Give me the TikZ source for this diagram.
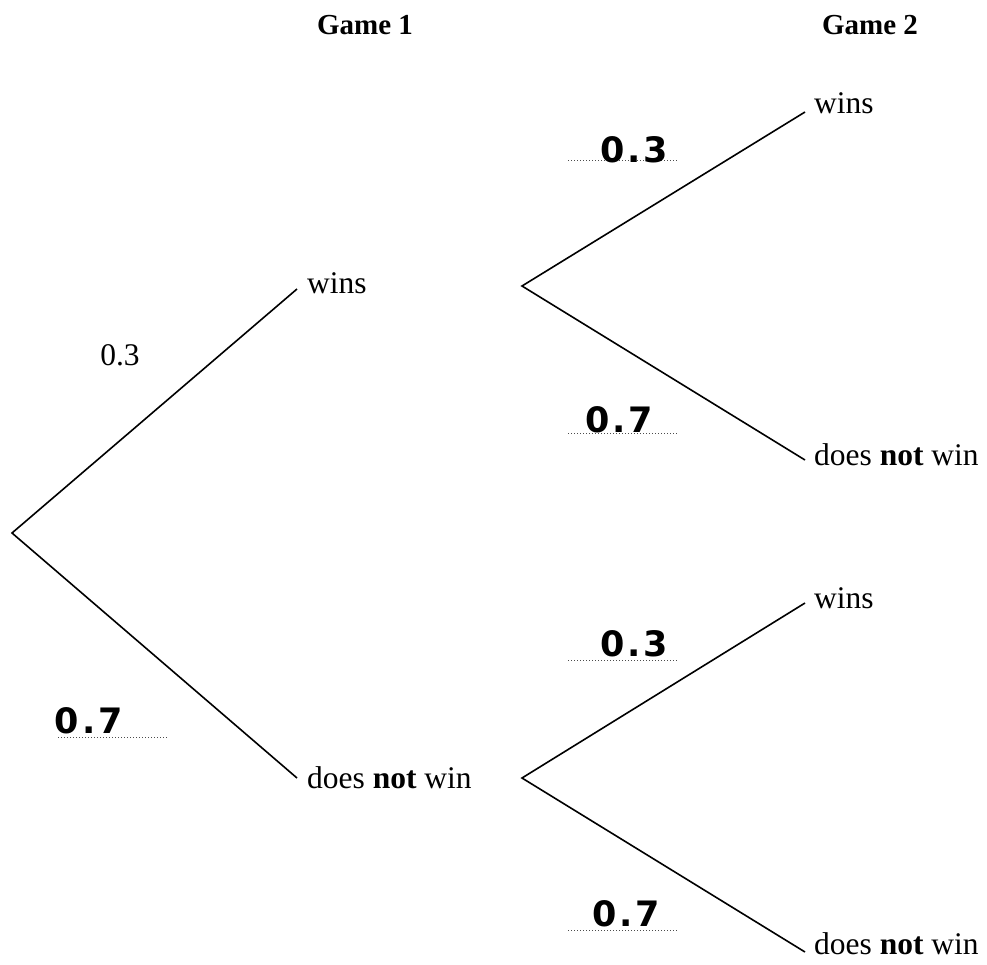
\documentclass[tikz,border=0pt]{standalone}
\usepackage{fontspec}
\setmainfont{Liberation Serif}
\newfontfamily\handfont{DejaVu Sans}
\newcommand{\hnum}[2]{#1\kern3pt.\kern3pt#2}
\begin{document}
\begin{tikzpicture}[x=1pt,y=-1pt,
  branch/.style={line width=1.6pt},
  lbl/.style={anchor=west,font=\fontsize{31.5}{34}\selectfont,inner sep=0pt},
  head/.style={font=\fontsize{29}{32}\selectfont\bfseries,inner sep=0pt},
  hand/.style={font=\handfont\fontsize{35}{37}\selectfont\bfseries,inner sep=0pt,anchor=base},
  dotline/.style={line width=1pt,dash pattern=on 1pt off 2pt,black!70}]
\useasboundingbox (0,0) rectangle (987,964);
\node[head] (g1) at (365,25) {Game 1};
\node[head] (g2) at (870,25) {Game 2};
% tree points
\coordinate (root) at (12,533);
\coordinate (a1) at (297,289);
\coordinate (a2) at (297,778);
\coordinate (b1) at (522,286);
\coordinate (b2) at (522,778);
\coordinate (c1) at (805,112);
\coordinate (c2) at (805,460);
\coordinate (c3) at (805,603);
\coordinate (c4) at (805,952);
\draw[branch] (a1) -- (root) -- (a2);
\draw[branch] (c1) -- (b1) -- (c2);
\draw[branch] (c3) -- (b2) -- (c4);
% labels
\node[lbl] (wa) at (307,283) {wins};
\node[lbl] (na) at (307,778) {does \textbf{not} win};
\node[lbl] (w1) at (814,103) {wins};
\node[lbl] (n1) at (814,455) {does \textbf{not} win};
\node[lbl] (w2) at (814,598) {wins};
\node[lbl] (n2) at (814,944) {does \textbf{not} win};
\node[font=\fontsize{31.5}{34}\selectfont,inner sep=0pt] (p0) at (120,355) {0.3};
% answer lines
\coordinate (d1s) at (568,160); \coordinate (d1e) at (678,160);
\coordinate (d2s) at (568,433); \coordinate (d2e) at (678,433);
\coordinate (d3s) at (568,660); \coordinate (d3e) at (678,660);
\coordinate (d4s) at (568,930); \coordinate (d4e) at (678,930);
\coordinate (d5s) at (58,737);  \coordinate (d5e) at (168,737);
\draw[dotline] (d1s) -- (d1e);
\draw[dotline] (d2s) -- (d2e);
\draw[dotline] (d3s) -- (d3e);
\draw[dotline] (d4s) -- (d4e);
\draw[dotline] (d5s) -- (d5e);
\node[hand] (h1) at (634,162) {\hnum{0}{3}};
\node[hand] (h2) at (619,432) {\hnum{0}{7}};
\node[hand] (h3) at (634,656) {\hnum{0}{3}};
\node[hand] (h4) at (626,926) {\hnum{0}{7}};
\node[hand] (h5) at (89,733) {\hnum{0}{7}};
\end{tikzpicture}
\end{document}
